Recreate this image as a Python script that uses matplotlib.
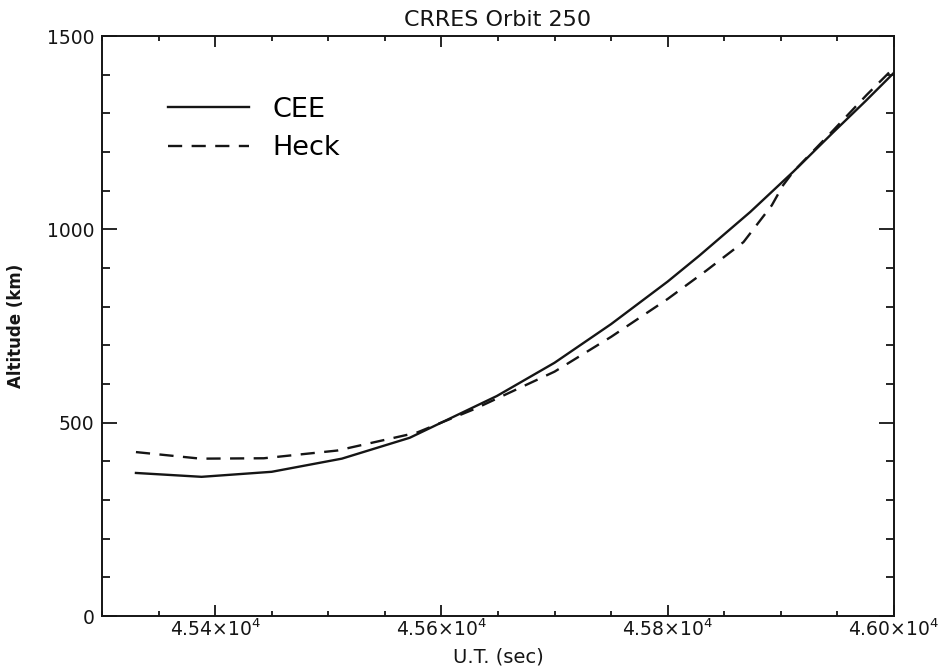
import numpy as np
import matplotlib.pyplot as plt
from matplotlib.ticker import MultipleLocator

# -----------------------------
# Data
# -----------------------------
cee_t = [45330, 45388, 45450, 45512, 45572, 45649, 45700, 45750, 45800,
         45828, 45873, 45911, 45946, 45975, 46000]
cee_alt = [370, 360, 373, 407, 461, 569, 655, 755, 865,
           932, 1045, 1149, 1250, 1332, 1405]

heck_t = [45330, 45387, 45443, 45508, 45578, 45629, 45700, 45750, 45800,
          45834, 45867, 45892, 45902, 45911, 45946, 45976, 46000]
heck_alt = [424, 407, 408, 428, 474, 535, 632, 722, 820,
            893, 967, 1062, 1114, 1149, 1255, 1348, 1418]

x_ticks = [45400, 45600, 45800, 46000]
x_labels = [r'$4.54{\times}10^{4}$', r'$4.56{\times}10^{4}$',
            r'$4.58{\times}10^{4}$', r'$4.60{\times}10^{4}$']
y_ticks = [0, 500, 1000, 1500]

# -----------------------------
# Figure
# -----------------------------
plt.rcParams['font.family'] = ['DejaVu Sans']
ink = '#151515'

fig = plt.figure(figsize=(9.41, 6.68), dpi=100)
ax = fig.add_axes([0.1084, 0.0778, 0.950 - 0.1084, 0.9461 - 0.0778])

ax.plot(cee_t, cee_alt, color=ink, lw=1.7, label='CEE')
ax.plot(heck_t, heck_alt, color=ink, lw=1.7, ls=(0, (6, 4)), label='Heck')

ax.set_xlim(45300, 46000)
ax.set_ylim(0, 1500)
ax.set_xticks(x_ticks)
ax.set_xticklabels(x_labels)
ax.set_yticks(y_ticks)
ax.xaxis.set_minor_locator(MultipleLocator(50))
ax.yaxis.set_minor_locator(MultipleLocator(100))

for s in ax.spines.values():
    s.set_linewidth(1.4)
    s.set_color(ink)

ax.tick_params(which='both', direction='in', top=True, right=True,
               width=1.3, color=ink, labelsize=13.5, labelcolor=ink)
ax.tick_params(axis='y', which='major', length=11, pad=5.5)
ax.tick_params(axis='y', which='minor', length=5.5)
ax.tick_params(axis='x', which='major', length=8, pad=2)
ax.tick_params(axis='x', which='minor', length=3.8)

ax.set_title('CRRES Orbit 250', fontsize=16, color=ink, pad=7)
ax.set_xlabel('U.T. (sec)', fontsize=14, color=ink)
ax.set_ylabel('Altitude (km)', fontsize=12, color=ink, fontweight='bold')
ax.xaxis.set_label_coords(0.5, -0.055)
ax.yaxis.set_label_coords(-0.097, 0.5)

ax.legend(loc='upper left', bbox_to_anchor=(0.0833, 0.895), frameon=False,
          fontsize=19.5, handlelength=3.0, handletextpad=0.85,
          labelspacing=0.45, borderaxespad=0, borderpad=0)

fig.savefig('out.png', dpi=100)
